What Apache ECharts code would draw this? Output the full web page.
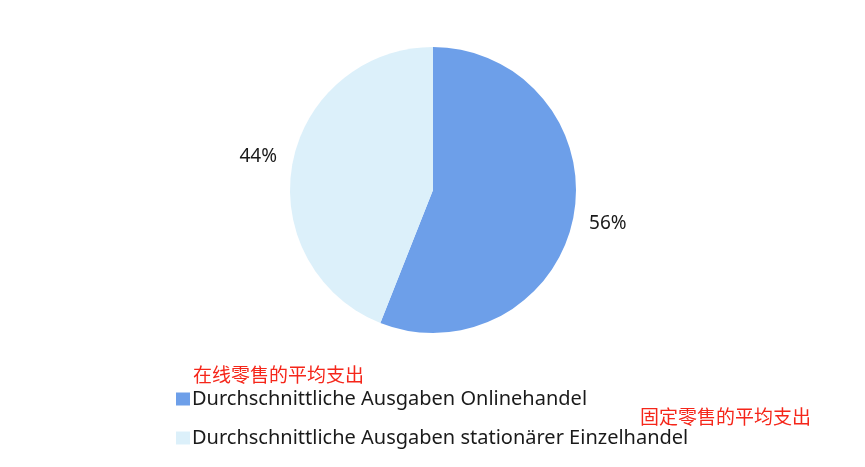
<!DOCTYPE html>
<html>
<head>
<meta charset="utf-8">
<script src="https://cdn.jsdelivr.net/npm/echarts@6/dist/echarts.min.js"></script>
<style>
  html, body { margin: 0; padding: 0; background: #fff; }
  #main { width: 865px; height: 467px; }
</style>
</head>
<body>
<div id="main"></div>
<script>
// slice names and shares (percent)
var names = ['Durchschnittliche Ausgaben Onlinehandel', 'Durchschnittliche Ausgaben stationärer Einzelhandel'];
var shares = [56, 44];
var colors = ['#6d9fe9', '#dcf0fa'];
var notes = ['在线零售的平均支出', '固定零售的平均支出'];

var chart = echarts.init(document.getElementById('main'));

var pieData = names.map(function (n, i) {
  return { name: n, value: shares[i], itemStyle: { color: colors[i] } };
});

var option = {
  backgroundColor: '#fff',
  animation: false,
  legend: {
    orient: 'vertical',
    left: 176,
    top: 389,
    padding: 0,
    itemWidth: 14,
    itemHeight: 13,
    itemGap: 19,
    icon: 'rect',
    textStyle: { fontFamily: 'Noto Sans', fontSize: 20, color: '#1a1a1a', padding: [0, 0, 0, -3] },
    data: names
  },
  graphic: [
    { type: 'text', left: 193, top: 365, style: { text: notes[0], fill: '#f5261a', font: '19px "Noto Sans CJK SC"' } },
    { type: 'text', left: 640, top: 407, style: { text: notes[1], fill: '#f5261a', font: '19px "Noto Sans CJK SC"' } }
  ],
  series: [
    {
      type: 'pie',
      center: [433, 190],
      radius: [0, 143],
      startAngle: 90,
      clockwise: true,
      label: { show: false },
      labelLine: { show: false },
      emphasis: { disabled: true },
      data: pieData
    },
    {
      // transparent ring used only to place the percentage labels
      type: 'pie',
      center: [433, 190],
      radius: [168, 182],
      startAngle: 90,
      clockwise: true,
      silent: true,
      itemStyle: { color: 'rgba(0,0,0,0)' },
      label: {
        show: true,
        position: 'inside',
        formatter: '{c}%',
        fontFamily: 'Noto Sans',
        fontSize: 19,
        color: '#1a1a1a'
      },
      labelLine: { show: false },
      emphasis: { disabled: true },
      data: names.map(function (n, i) { return { name: n, value: shares[i] }; })
    }
  ]
};

chart.setOption(option);
</script>
</body>
</html>
